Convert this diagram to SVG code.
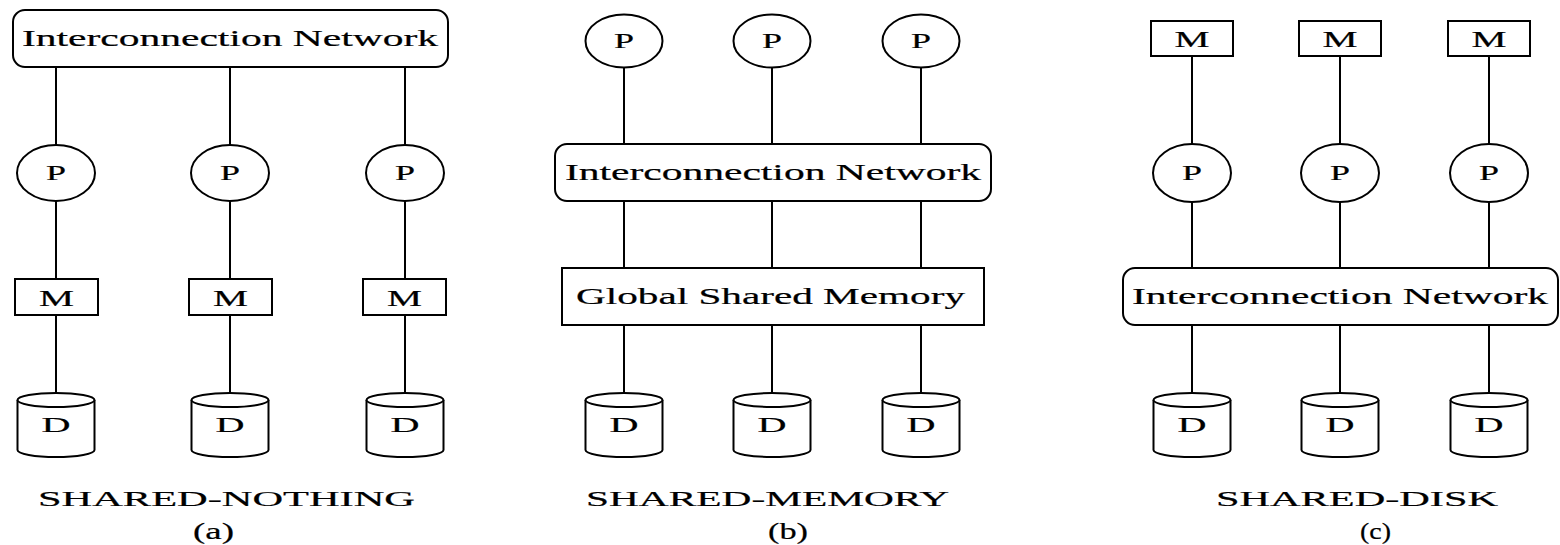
<svg xmlns="http://www.w3.org/2000/svg" width="1560" height="545" viewBox="0 0 1560 545">
<style>
.s{fill:#fff;stroke:#000;stroke-width:2}
.c{fill:none;stroke:#000;stroke-width:2}
text{font-family:"Liberation Serif","Times New Roman",serif;fill:#000;stroke:#000;stroke-width:0.2}
.big{font-size:23px}
.lbl{font-size:20.5px}
.m{font-size:23.5px}
.d{font-size:22px}
.cap{font-size:21.5px}
.sub{font-size:23px}
</style>
<defs>
<g id="disk">
<path class="s" d="M-38.5,400 V450 A38.5 7 0 0 0 38.5,450 V400"/>
<ellipse class="s" cx="0" cy="400" rx="38.5" ry="7"/>
</g>
</defs>
<rect width="1560" height="545" fill="#fff"/>

<g id="connectors">
<path class="c" d="M56,67V145 M230,67V145 M405,67V145 M56,201V279 M230,201V279 M405,201V279 M56,315V393 M230,315V393 M405,315V393"/>
<path class="c" d="M624,67V144 M772,67V144 M921,67V144 M624,201V268 M772,201V268 M921,201V268 M624,325V393 M772,325V393 M921,325V393"/>
<path class="c" d="M1192,56V144 M1340,56V144 M1489,56V144 M1192,202V268 M1340,202V268 M1489,202V268 M1192,325V393 M1340,325V393 M1489,325V393"/>
</g>

<!-- Panel (a) -->
<g id="a-net"><rect class="s" x="13" y="10" width="435" height="57" rx="12"/><text class="big" x="22" y="46" textLength="416" lengthAdjust="spacingAndGlyphs">Interconnection Network</text></g>
<g id="a-p1"><ellipse class="s" cx="56" cy="173" rx="39" ry="28"/><text class="lbl" x="46" y="180" textLength="20" lengthAdjust="spacingAndGlyphs">P</text></g>
<g id="a-p2"><ellipse class="s" cx="230" cy="173" rx="39" ry="28"/><text class="lbl" x="220" y="180" textLength="20" lengthAdjust="spacingAndGlyphs">P</text></g>
<g id="a-p3"><ellipse class="s" cx="405" cy="173" rx="39" ry="28"/><text class="lbl" x="395" y="180" textLength="20" lengthAdjust="spacingAndGlyphs">P</text></g>
<g id="a-m1"><rect class="s" x="15" y="279" width="83" height="36"/><text class="m" x="39" y="306" textLength="35" lengthAdjust="spacingAndGlyphs">M</text></g>
<g id="a-m2"><rect class="s" x="189" y="279" width="83" height="36"/><text class="m" x="213" y="306" textLength="35" lengthAdjust="spacingAndGlyphs">M</text></g>
<g id="a-m3"><rect class="s" x="363" y="279" width="83" height="36"/><text class="m" x="387" y="306" textLength="35" lengthAdjust="spacingAndGlyphs">M</text></g>
<g id="a-d1"><use href="#disk" x="56"/><text class="d" x="41.5" y="432" textLength="29" lengthAdjust="spacingAndGlyphs">D</text></g>
<g id="a-d2"><use href="#disk" x="230"/><text class="d" x="215.5" y="432" textLength="29" lengthAdjust="spacingAndGlyphs">D</text></g>
<g id="a-d3"><use href="#disk" x="405"/><text class="d" x="390.5" y="432" textLength="29" lengthAdjust="spacingAndGlyphs">D</text></g>
<g id="a-caption"><text class="cap" x="38" y="506" textLength="377" lengthAdjust="spacingAndGlyphs">SHARED-NOTHING</text><text class="sub" x="193" y="539" textLength="41" lengthAdjust="spacingAndGlyphs">(a)</text></g>

<!-- Panel (b) -->
<g id="b-p1"><ellipse class="s" cx="624" cy="41" rx="38.5" ry="26.5"/><text class="lbl" x="614" y="47.5" textLength="20" lengthAdjust="spacingAndGlyphs">P</text></g>
<g id="b-p2"><ellipse class="s" cx="772" cy="41" rx="38.5" ry="26.5"/><text class="lbl" x="762" y="47.5" textLength="20" lengthAdjust="spacingAndGlyphs">P</text></g>
<g id="b-p3"><ellipse class="s" cx="921" cy="41" rx="38.5" ry="26.5"/><text class="lbl" x="911" y="47.5" textLength="20" lengthAdjust="spacingAndGlyphs">P</text></g>
<g id="b-net"><rect class="s" x="555" y="144" width="436" height="57" rx="12"/><text class="big" x="565" y="180" textLength="416" lengthAdjust="spacingAndGlyphs">Interconnection Network</text></g>
<g id="b-gsm"><rect class="s" x="562" y="268" width="422" height="57"/><text class="big" x="576" y="304" textLength="389" lengthAdjust="spacingAndGlyphs">Global Shared Memory</text></g>
<g id="b-d1"><use href="#disk" x="624"/><text class="d" x="609.5" y="432" textLength="29" lengthAdjust="spacingAndGlyphs">D</text></g>
<g id="b-d2"><use href="#disk" x="772"/><text class="d" x="757.5" y="432" textLength="29" lengthAdjust="spacingAndGlyphs">D</text></g>
<g id="b-d3"><use href="#disk" x="921"/><text class="d" x="906.5" y="432" textLength="29" lengthAdjust="spacingAndGlyphs">D</text></g>
<g id="b-caption"><text class="cap" x="586" y="506" textLength="363" lengthAdjust="spacingAndGlyphs">SHARED-MEMORY</text><text class="sub" x="768" y="539" textLength="40" lengthAdjust="spacingAndGlyphs">(b)</text></g>

<!-- Panel (c) -->
<g id="c-m1"><rect class="s" x="1151" y="21" width="82" height="35"/><text class="m" x="1174.5" y="46.5" textLength="35" lengthAdjust="spacingAndGlyphs">M</text></g>
<g id="c-m2"><rect class="s" x="1299" y="21" width="82" height="35"/><text class="m" x="1322.5" y="46.5" textLength="35" lengthAdjust="spacingAndGlyphs">M</text></g>
<g id="c-m3"><rect class="s" x="1448" y="21" width="82" height="35"/><text class="m" x="1471.5" y="46.5" textLength="35" lengthAdjust="spacingAndGlyphs">M</text></g>
<g id="c-p1"><ellipse class="s" cx="1192" cy="173" rx="39" ry="29"/><text class="lbl" x="1182" y="180" textLength="20" lengthAdjust="spacingAndGlyphs">P</text></g>
<g id="c-p2"><ellipse class="s" cx="1340" cy="173" rx="39" ry="29"/><text class="lbl" x="1330" y="180" textLength="20" lengthAdjust="spacingAndGlyphs">P</text></g>
<g id="c-p3"><ellipse class="s" cx="1489" cy="173" rx="39" ry="29"/><text class="lbl" x="1479" y="180" textLength="20" lengthAdjust="spacingAndGlyphs">P</text></g>
<g id="c-net"><rect class="s" x="1123" y="268" width="435" height="57" rx="12"/><text class="big" x="1132" y="304" textLength="416" lengthAdjust="spacingAndGlyphs">Interconnection Network</text></g>
<g id="c-d1"><use href="#disk" x="1192"/><text class="d" x="1177.5" y="432" textLength="29" lengthAdjust="spacingAndGlyphs">D</text></g>
<g id="c-d2"><use href="#disk" x="1340"/><text class="d" x="1325.5" y="432" textLength="29" lengthAdjust="spacingAndGlyphs">D</text></g>
<g id="c-d3"><use href="#disk" x="1489"/><text class="d" x="1474.5" y="432" textLength="29" lengthAdjust="spacingAndGlyphs">D</text></g>
<g id="c-caption"><text class="cap" x="1216" y="506" textLength="282" lengthAdjust="spacingAndGlyphs">SHARED-DISK</text><text class="sub" x="1360" y="539" textLength="31" lengthAdjust="spacingAndGlyphs">(c)</text></g>
</svg>
